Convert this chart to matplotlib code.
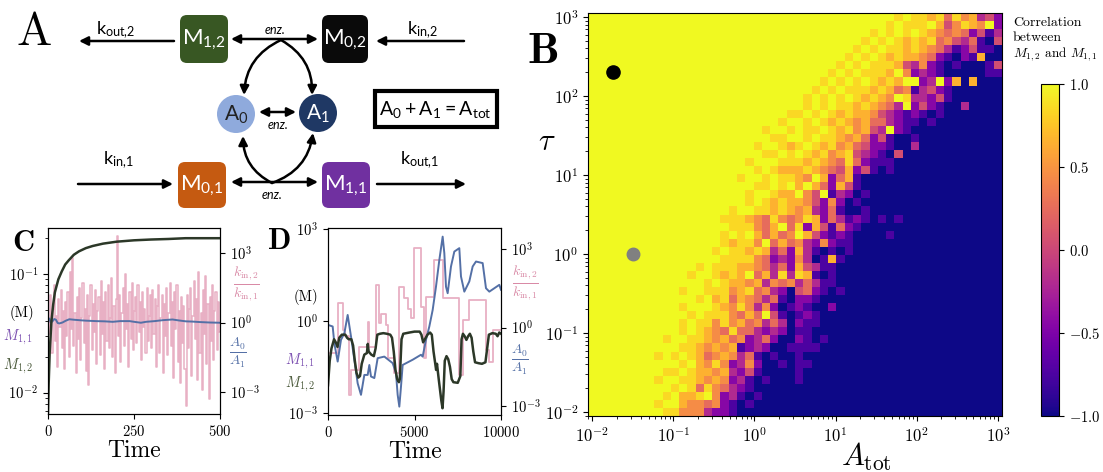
import numpy as np
import matplotlib
matplotlib.use("Agg")
import matplotlib.pyplot as plt
from matplotlib.patches import FancyBboxPatch, Circle, FancyArrowPatch, Rectangle

plt.rcParams['font.family'] = ['cmr10', 'DejaVu Serif']
plt.rcParams['mathtext.fontset'] = 'cm'
plt.rcParams['axes.formatter.use_mathtext'] = True

# ---------------- data ----------------
# Panel B heat map: correlation between M_{1,2} and M_{1,1}
A_tot = np.logspace(-2, 3, 50)
tau = np.logspace(-2, 3, 50)
# rows from tau = 1e3 (top) down to tau = 1e-2 (bottom); columns A_tot low -> high
# digit code: 9 = +1 (yellow) ... 0 = -1 (dark blue)
corr_rows = [
    "9999999999 9999999999 9999999999 9999999898 8785867342",
    "9999999999 9999999999 9999999999 9999998988 8974687692",
    "9999999999 9999999999 9999999999 9999898989 8765652413",
    "9999999999 9999999999 9999999999 9998989878 7856435104",
    "9999999999 9999999999 9999999999 9989898878 7653124110",
    "9999999999 9999999999 9999999999 9898987877 6521021700",
    "9999999999 9999999999 9999999999 8989888743 6210100014",
    "9999999999 9999999999 9999999998 9898887962 3210000011",
    "9999999999 9999999999 9999999989 8989878799 2392707000",
    "9999999999 9999999999 9999999898 9888787561 3421000000",
    "9999999999 9999999999 9999998989 8987876983 3241000000",
    "9999999999 9999999999 9999998989 8878765392 4210030000",
    "9999999999 9999999999 9999889898 7877643212 1010000000",
    "9999999999 9999999999 9998998987 8767553211 0100000000",
    "9999999999 9999999999 9899898898 7867439210 0000000000",
    "9999999999 9999999999 9988998988 7675241001 0000000000",
    "9999999999 9999999999 8998789878 6754221003 0000000000",
    "9999999999 9999999999 9889898786 7843210400 0000000000",
    "9999999999 9999999998 9998887876 5852111000 0000000000",
    "9999999999 9999999999 8987778765 4724101000 0000000000",
    "9999999999 9999999989 9898876972 5710000000 0000000000",
    "9999999999 9999999999 8898979752 7410000000 0000000000",
    "9999999999 9999999998 9987796491 3201000000 0000000000",
    "9999999999 9999999998 9878776426 2010000000 0000000000",
    "9999999999 9999999899 8878767325 1001000000 0000000000",
    "9999999999 9999998887 6586568725 3121010100 0000000000",
    "9999999999 9999999888 6579582741 5210000000 0000000000",
    "9999999999 9999998989 7575697421 2100001000 0000000000",
    "9999999999 9999998788 6957563262 1100000000 0000000000",
    "9999999999 9999989887 8735273101 0100000000 0000000000",
    "9999999999 9999998888 6523263017 1000000000 0000000000",
    "9999999999 9998988877 6535274311 0000000000 0000000000",
    "9999999999 9989987879 5738387101 0000000000 0000000000",
    "9999999999 9999898776 7365635311 0000000000 0000000000",
    "9999999999 9899888678 5632045210 1000000000 0000000000",
    "9999999999 9998978576 5351022100 0000000000 0000000000",
    "9999999999 9899987686 3620121002 0000000000 0000000000",
    "9999999999 9989888657 5941012100 0000000000 0000000000",
    "9999999999 9898868675 6353021100 0000000000 0000000000",
    "9999999999 9898765855 3232011000 0000000000 0000000000",
    "9999999998 9988767562 3520021010 0000000000 0000000000",
    "9999999999 9887676712 3200111100 0000000000 0000000000",
    "9999999989 8987567635 1010010000 0000000000 0000000000",
    "9999999999 9897686236 2001011000 0000000000 0000000000",
    "9999999998 8987767324 1000010000 0000000000 0000000000",
    "9999999989 9887676231 0100010000 0000000000 0000000000",
    "9999999999 8985865321 0000000000 0000000000 0000000000",
    "9999999998 9778962310 1000000000 0000000000 0000000000",
    "9999999989 9766562101 0000000000 0000000000 0000000000",
    "9999999998 8666322100 0000000000 0000000000 0000000000",
]
level_value = {'9': 1.0, '8': 0.85, '7': 0.65, '6': 0.45, '5': 0.25,
               '4': 0.05, '3': -0.2, '2': -0.45, '1': -0.75, '0': -1.0}
dot_black = (0.018, 200.0)
dot_gray = (0.032, 1.0)
cbar_ticks = [-1.0, -0.5, 0.0, 0.5, 1.0]

# Panel C
time_C_ratio = np.linspace(0, 500, 151)
log_ratio_C = [0.1, -0.5, 1.2, -1.3, 0.6, 1.6, -0.8, 0.3, -1.9, 1.0, -0.2, 1.4, -1.1, 0.5, -2.0,
               0.9, -0.6, 1.3, -1.5, 2.2, -0.3, 2.8, -1.0, 0.4, -2.2, 1.1, -0.7, 1.5, -1.6, 0.2,
               1.7, -0.9, 0.6, -2.1, 1.2, -2.7, 0.3, 1.6, -1.2, 0.8, -0.4, 1.4, -1.8, 0.5, 1.1,
               -1.4, 1.8, -0.5, 0.9, -2.0, 1.3, -0.8, 1.6, -1.1, 0.2, 1.9, -1.5, 0.7, -2.2, 1.0,
               3.75, -0.6, 1.2, -1.7, 0.4, 1.5, -1.0, 2.1, -0.3, 0.8, -1.9, 1.3, -0.7, 1.7, -1.2,
               0.5, 1.1, -0.9, 1.6, -0.4, 0.9, -1.6, 1.3, -0.2, 0.6, -1.3, 1.5, -0.8, 0.3, 1.2,
               -1.1, 1.4, -0.5, 1.0, -1.9, 0.7, 1.6, -1.3, 0.2, 1.2, -2.2, 0.8, -0.6, 1.5, -1.4,
               0.4, 1.7, -1.0, 0.9, -2.4, 1.3, -0.3, 1.6, -1.7, 0.5, -2.6, 1.1, -0.9, 0.7, -2.0,
               -3.6, 1.2, -1.1, 0.6, 1.5, -2.3, 0.3, 1.8, -0.7, 1.0, -2.5, 2.2, -1.3, 0.4, -2.9,
               1.4, -0.5, 2.0, -1.8, 0.8, -3.3, 1.1, -0.8, 1.6, -1.6, 0.5, 1.3, -1.2, 0.9, -0.4]
time_C_M = [0, 2, 5, 10, 15, 20, 30, 40, 50, 60, 75, 90, 110, 130, 160, 200, 250, 300, 350, 400, 450, 500]
M12_C = [0.0068, 0.012, 0.022, 0.04, 0.055, 0.07, 0.09, 0.105, 0.12, 0.13, 0.145, 0.155, 0.165,
         0.172, 0.18, 0.187, 0.192, 0.195, 0.197, 0.2, 0.2, 0.2]
time_C_A = [0, 4, 8, 13, 18, 23, 28, 33, 42, 52, 62, 75, 91, 110, 140, 165, 188, 210, 237, 255,
            270, 285, 310, 333, 362, 380, 401, 420, 440, 470, 500]
log_A_C = [0.1, 0.17, 0.0, 0.05, 0.15, 0.12, -0.02, -0.04, 0.0, 0.08, 0.14, 0.12, 0.10, 0.08, 0.06,
           0.05, 0.03, 0.06, 0.06, 0.02, -0.01, 0.03, 0.06, 0.10, 0.13, 0.09, 0.05, 0.04, 0.02, 0.0, -0.01]

# Panel D
time_D_ratio = [0, 559, 848, 1002, 1233, 1349, 1773, 2293, 2389, 2774, 2967, 3063, 3352, 3449, 3834,
                4123, 4412, 4605, 4797, 4990, 5375, 5568, 5664, 6146, 6628, 7590, 7783, 8169, 9132,
                9325, 9518, 10000]
log_ratio_D = [-0.98, 0.95, -0.09, -0.34, -2.57, -1.62, -0.73, 0.23, -0.73, 1.63, 0.17, 0.52, 0.10,
               -1.17, -1.74, 1.53, 1.12, 0.70, 0.36, 3.03, 0.80, -1.17, 1.18, 2.58, 1.12, -1.81, 0.29,
               1.06, -0.85, -1.30, -0.09, -0.09]
time_D_M = [0, 100, 200, 350, 450, 550, 650, 800, 1000, 1100, 1200, 1350, 1450, 1550, 1650, 1750, 1850,
            1950, 2100, 2250, 2300, 2350, 2500, 2650, 2750, 2850, 3000, 3200, 3400, 3600, 3700, 3800,
            3900, 4000, 4100, 4150, 4250, 4350, 4700, 5000, 5300, 5400, 5500, 5600, 5750, 5900, 6000,
            6100, 6250, 6300, 6400, 6550, 6620, 6680, 6750, 6850, 6950, 7050, 7150, 7250, 7500, 7650,
            7720, 7800, 7900, 8000, 8100, 8200, 8300, 8400, 8500, 8700, 8900, 9100, 9200, 9300, 9500,
            9700, 9800, 9900, 10000]
log_M12_D = [-2.1, -1.3, -0.9, -0.6, -0.7, -0.85, -0.55, -0.45, -0.45, -0.55, -0.6, -0.6, -0.8, -1.3,
             -1.7, -1.85, -1.8, -1.4, -1.1, -1.05, -0.75, -1.0, -1.1, -1.15, -0.9, -0.45, -0.42, -0.4,
             -0.42, -0.45, -0.55, -1.0, -1.6, -1.9, -2.0, -1.9, -0.6, -0.42, -0.38, -0.35, -0.35, -0.45,
             -0.7, -0.6, -0.45, -0.38, -0.45, -1.0, -1.6, -1.4, -1.9, -2.6, -2.85, -2.3, -1.3, -1.15,
             -1.25, -1.5, -1.9, -2.0, -2.02, -1.8, -0.6, -0.42, -0.5, -0.62, -0.5, -0.42, -0.55, -1.0,
             -1.35, -1.38, -1.4, -1.35, -0.9, -0.45, -0.4, -0.42, -0.5, -0.38, -0.42]
time_D_A = [0, 270, 366, 559, 751, 944, 1137, 1329, 1522, 1715, 1907, 2100, 2293, 2390, 2485, 2678,
            2870, 3256, 3738, 3930, 4027, 4123, 4220, 4316, 4894, 5375, 5472, 5664, 5857, 6050, 6242,
            6435, 6628, 6724, 6820, 6917, 7109, 7302, 7590, 7687, 7880, 8169, 8362, 8554, 8940, 9132,
            9325, 9614, 9903, 10000]
log_A_D = [0.10, 0.04, -0.6, -1.30, -0.47, -0.22, 0.48, -0.34, -1.23, -2.13, -2.57, -1.81, -1.81,
           -1.43, -1.87, -1.93, -1.17, -1.11, -1.36, -1.74, -2.57, -3.02, -2.25, -1.43, -1.23, -1.04,
           -1.11, -0.47, 0.04, 0.67, 1.56, 2.58, 3.47, 2.84, 1.56, 1.31, 2.33, 2.90, 3.03, 1.95, 1.37,
           1.76, 2.33, 2.52, 2.46, 1.50, 1.37, 1.50, 1.63, 1.44]

# ---------------- figure ----------------
W, H = 1103, 472
fig = plt.figure(figsize=(W / 100, H / 100), dpi=100)


def fx(px):
    return px / W


def fy(py):
    return 1 - py / H


def axrect(x0, y0, x1, y1):
    return [fx(x0), fy(y1), (x1 - x0) / W, (y1 - y0) / H]


PINK = '#e8b0c4'
BLUE = '#5470a6'
DARK = '#2c3828'

# ---------------- Panel A (schematic) ----------------
axA = fig.add_axes([0, fy(210), fx(520), 210 / H])
axA.set_xlim(0, 520)
axA.set_ylim(210, 0)
axA.axis('off')
SANS = 'Lato'

for lab, x0, y0, w, h, col in [('M_{1{,}2}', 180, 15, 48, 48, '#385723'),
                               ('M_{0{,}2}', 322, 15, 46, 48, '#0a0a0a'),
                               ('M_{0{,}1}', 178, 162, 48, 46, '#c55a11'),
                               ('M_{1{,}1}', 322, 162, 48, 46, '#7030a0')]:
    axA.add_patch(FancyBboxPatch((x0, y0), w, h, boxstyle='round,pad=0,rounding_size=7',
                                 fc=col, ec='none'))
    axA.text(x0 + w / 2, y0 + h / 2 + 1, r'$\mathregular{' + lab + '}$', color='white',
             fontsize=16, family=SANS, ha='center', va='center')

axA.add_patch(Circle((236, 114), 19, fc='#8faadc', ec='none'))
axA.add_patch(Circle((318, 113), 19, fc='#1f3864', ec='none'))
axA.text(236, 115, r'$\mathregular{A_0}$', color='#222222', fontsize=15, family=SANS,
         ha='center', va='center')
axA.text(318, 114, r'$\mathregular{A_1}$', color='white', fontsize=15, family=SANS,
         ha='center', va='center')
axA.add_patch(Rectangle((374.5, 90.5), 122, 36, fill=False, ec='black', lw=3))
axA.text(435.5, 109, r'$\mathregular{A_0 + A_1 = A_{tot}}$', fontsize=14, family=SANS,
         ha='center', va='center')


def arrow(p0, p1, style='-|>', rad=0.0):
    axA.add_patch(FancyArrowPatch(p0, p1, arrowstyle=style, mutation_scale=13, lw=1.8,
                                  color='black', shrinkA=0, shrinkB=0,
                                  connectionstyle='arc3,rad=%s' % rad))


arrow((174, 41), (79, 41))
arrow((464, 41), (376, 41))
arrow((78, 184), (173, 184))
arrow((377, 184), (466, 184))
arrow((231, 39), (318, 39), '<|-|>')
arrow((231, 182), (318, 182), '<|-|>')
arrow((259, 112), (296, 112), '<|-|>')
arrow((281, 40), (244, 95), rad=0.3)
arrow((281, 40), (312, 95), rad=-0.3)
arrow((272, 183), (243, 136), rad=-0.3)
arrow((272, 183), (313, 133), rad=0.3)

for txt, x, y in [('k_{out{,}2}', 116, 30), ('k_{in{,}2}', 422, 30),
                  ('k_{in{,}1}', 118, 160), ('k_{out{,}1}', 420, 160)]:
    axA.text(x, y, r'$\mathregular{' + txt + '}$', fontsize=13, family=SANS,
             ha='center', va='center')
for x, y in [(275, 30), (278, 125), (272, 195)]:
    axA.text(x, y, 'enz.', fontsize=9, family=SANS, style='italic', ha='center', va='center')

# ---------------- Panel B (heat map) ----------------
Z = np.array([[level_value[c] for c in row.replace(' ', '')] for row in corr_rows])[::-1]


def edges(centers):
    lc = np.log10(centers)
    d = lc[1] - lc[0]
    return 10 ** np.concatenate([[lc[0] - d / 2], (lc[:-1] + lc[1:]) / 2, [lc[-1] + d / 2]])


xe, ye = edges(A_tot), edges(tau)
axB = fig.add_axes(axrect(588, 13, 1002, 416))
mesh = axB.pcolormesh(xe, ye, Z, cmap='plasma', vmin=-1, vmax=1, shading='flat')
axB.set_xscale('log')
axB.set_yscale('log')
axB.set_xlim(xe[0], xe[-1])
axB.set_ylim(ye[0], ye[-1])
axB.plot([dot_black[0]], [dot_black[1]], 'o', color='black', ms=9.5)
axB.plot([dot_gray[0]], [dot_gray[1]], 'o', color='#808080', ms=9)
axB.tick_params(labelsize=12)
fig.text(fx(866), fy(466), r'$A_{\rm tot}$', fontsize=22, ha='center', va='baseline')
fig.text(fx(547), fy(142), r'$\tau$', fontsize=22, ha='center', va='center')

cax = fig.add_axes(axrect(1041, 84, 1059, 416))
cb = fig.colorbar(mesh, cax=cax, ticks=cbar_ticks)
cb.ax.set_yticklabels([r'$%.1f$' % t for t in cbar_ticks])
cb.ax.tick_params(labelsize=10.5)
cb.outline.set_linewidth(0.8)
fig.text(fx(1013), fy(26), 'Correlation', fontsize=10, va='baseline')
fig.text(fx(1013), fy(41), 'between', fontsize=10, va='baseline')
fig.text(fx(1013), fy(57), r'$M_{1,2}$ and $M_{1,1}$', fontsize=9.5, va='baseline')

# ---------------- Panel C ----------------
axC = fig.add_axes(axrect(48, 228, 220, 414))
axC.set_yscale('log')
axC.plot(time_C_ratio, 10 ** np.append(log_ratio_C, log_ratio_C[-1]), drawstyle='steps-post',
         color=PINK, lw=1.1)
axC.plot(time_C_A, 10 ** np.array(log_A_C), color=BLUE, lw=1.4)
axC.set_ylim(10 ** -3.95, 10 ** 4.08)
axC.set_yticks([1e-3, 1, 1e3])
axC.set_xlim(0, 500)
axC.set_xticks([0, 250, 500])
axC.set_xlabel('Time', fontsize=17, labelpad=1)
axCl = axC.twinx()
axCl.set_yscale('log')
axCl.plot(time_C_M, M12_C, color=DARK, lw=1.8)
axCl.set_ylim(10 ** -2.18, 10 ** -0.613)
axC.yaxis.tick_right()
axCl.yaxis.tick_left()
axC.tick_params(labelsize=10.5)
axCl.tick_params(labelsize=10.5)

fig.text(fx(12), fy(251), 'C', fontsize=22, family='cmb10', va='baseline')
fig.text(fx(22), fy(313), '(M)', fontsize=10.5, ha='center', va='center')
fig.text(fx(18), fy(337), r'$M_{1,1}$', fontsize=10.5, color='#7b4fb0', ha='center', va='center')
fig.text(fx(18), fy(366), r'$M_{1,2}$', fontsize=10.5, color='#4b5a3b', ha='center', va='center')
fig.text(fx(246), fy(284), r'$\frac{k_{\rm in,2}}{k_{\rm in,1}}$', fontsize=14, color='#d98aa6',
         ha='center', va='center')
fig.text(fx(238), fy(353), r'$\frac{A_0}{A_1}$', fontsize=14, color=BLUE, ha='center', va='center')

# ---------------- Panel D ----------------
axD = fig.add_axes(axrect(328, 228, 501, 415))
axD.set_yscale('log')
axD.plot(time_D_ratio, 10 ** np.array(log_ratio_D), drawstyle='steps-post', color=PINK, lw=1.3)
axD.plot(time_D_A, 10 ** np.array(log_A_D), color=BLUE, lw=1.4)
axD.set_ylim(10 ** -3.34, 10 ** 3.8)
axD.set_yticks([1e-3, 1, 1e3])
axD.set_xlim(0, 10000)
axD.set_xticks([0, 5000, 10000])
axD.set_xlabel('Time', fontsize=17, labelpad=1)
axDl = axD.twinx()
axDl.set_yscale('log')
axDl.plot(time_D_M, 10 ** np.array(log_M12_D), color=DARK, lw=1.8)
axDl.set_ylim(10 ** -3.07, 10 ** 3.03)
axDl.set_yticks([1e-3, 1, 1e3])
axD.yaxis.tick_right()
axDl.yaxis.tick_left()
axD.tick_params(labelsize=10.5)
axDl.tick_params(labelsize=10.5)

fig.text(fx(268), fy(249), 'D', fontsize=22, family='cmb10', va='baseline')
fig.text(fx(306), fy(297), '(M)', fontsize=10.5, ha='center', va='center')
fig.text(fx(300), fy(361), r'$M_{1,1}$', fontsize=10.5, color='#7b4fb0', ha='center', va='center')
fig.text(fx(300), fy(384), r'$M_{1,2}$', fontsize=10.5, color='#4b5a3b', ha='center', va='center')
fig.text(fx(525), fy(283), r'$\frac{k_{\rm in,2}}{k_{\rm in,1}}$', fontsize=14, color='#d98aa6',
         ha='center', va='center')
fig.text(fx(520), fy(360), r'$\frac{A_0}{A_1}$', fontsize=14, color=BLUE, ha='center', va='center')

fig.text(fx(17), fy(45), 'A', fontsize=34, family='cmr10', va='baseline')
fig.text(fx(527), fy(63), 'B', fontsize=32, family='cmb10', va='baseline')

fig.savefig('out.png', dpi=100)
